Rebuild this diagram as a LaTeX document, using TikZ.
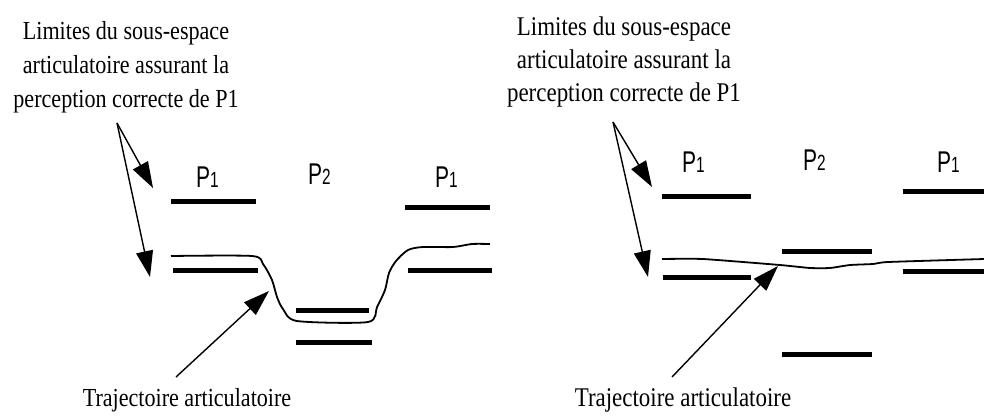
\documentclass[tikz,border=0pt]{standalone}
\usepackage{fontspec}
\newfontfamily\serifc[FakeStretch=0.85]{Liberation Serif}
\newfontfamily\sansc[FakeStretch=0.7]{Liberation Sans}
\usetikzlibrary{arrows.meta}
\tikzset{
  bar/.style={line width=5pt, line cap=butt},
  traj/.style={line width=1.8pt, line join=round},
  ptr/.style={line width=1.4pt, -{Triangle[length=26pt,width=17pt]}},
  lbl/.style={inner sep=0pt, anchor=base west, font=\sansc\fontsize{30}{30}\selectfont},
  note/.style={inner sep=0pt, anchor=base, align=center, font=\serifc\fontsize{26}{34}\selectfont},
  noteR/.style={note, font=\serifc\fontsize{27}{33}\selectfont},
}
\newcommand{\Plab}[1]{P{\fontsize{22}{22}\selectfont #1}}
\begin{document}
\begin{tikzpicture}[x=1pt,y=-1pt]
\useasboundingbox (0,0) rectangle (984,416);
% ---------------- left panel ----------------
\node[note] (limL) at (126,107) {Limites du sous-espace\\articulatoire assurant la\\perception correcte de P1};
\node[lbl] (p1a) at (196,187) {\Plab{1}};
\node[lbl] (p2a) at (308,184) {\Plab{2}};
\node[lbl] (p1b) at (435,187) {\Plab{1}};
\draw[bar] (171,201) -- (256,201);
\draw[bar] (173,270) -- (258,270);
\draw[bar] (296,310) -- (369,310);
\draw[bar] (296,342) -- (372,342);
\draw[bar] (405,207) -- (490,207);
\draw[bar] (408,270) -- (492,270);
\draw[traj] plot[smooth, tension=0.45] coordinates {(171,256) (252,256) (263,264) (272,280) (277,297) (283,309) (297,321) (368,322) (377,307) (385,290) (389,273) (396,261) (408,250) (423,247) (453,247) (472,244) (490,244)};
\coordinate (oL) at (117,123);
\coordinate (t1L) at (153,188);
\coordinate (t2L) at (150,277);
\draw[ptr] (oL) -- (t1L);
\draw[ptr] (oL) -- (t2L);
\node[note] (trL) at (187,406) {Trajectoire articulatoire};
\coordinate (sL) at (176,377);
\coordinate (eL) at (269,291);
\draw[ptr] (sL) -- (eL);
% ---------------- right panel ----------------
\node[noteR] (limR) at (624,101) {Limites du sous-espace\\articulatoire assurant la\\perception correcte de P1};
\node[lbl] (p1c) at (682,172) {\Plab{1}};
\node[lbl] (p2c) at (803,170) {\Plab{2}};
\node[lbl] (p1d) at (937,172) {\Plab{1}};
\draw[bar] (662,196) -- (751,196);
\draw[bar] (663,277) -- (751,277);
\draw[bar] (782,251) -- (872,251);
\draw[bar] (782,354) -- (872,354);
\draw[bar] (903,191) -- (984,191);
\draw[bar] (903,271) -- (984,271);
\draw[traj] plot[smooth, tension=0.3] coordinates {(662,259) (703,259) (780,265) (810,268) (830,268) (850,265) (873,264) (888,262) (984,259)};
\coordinate (oR) at (613,122);
\coordinate (t1R) at (652,187);
\coordinate (t2R) at (648,277);
\draw[ptr] (oR) -- (t1R);
\draw[ptr] (oR) -- (t2R);
\node[noteR] (trR) at (683,406) {Trajectoire articulatoire};
\coordinate (sR) at (672,377);
\coordinate (eR) at (778,266);
\draw[ptr] (sR) -- (eR);
\end{tikzpicture}
\end{document}
